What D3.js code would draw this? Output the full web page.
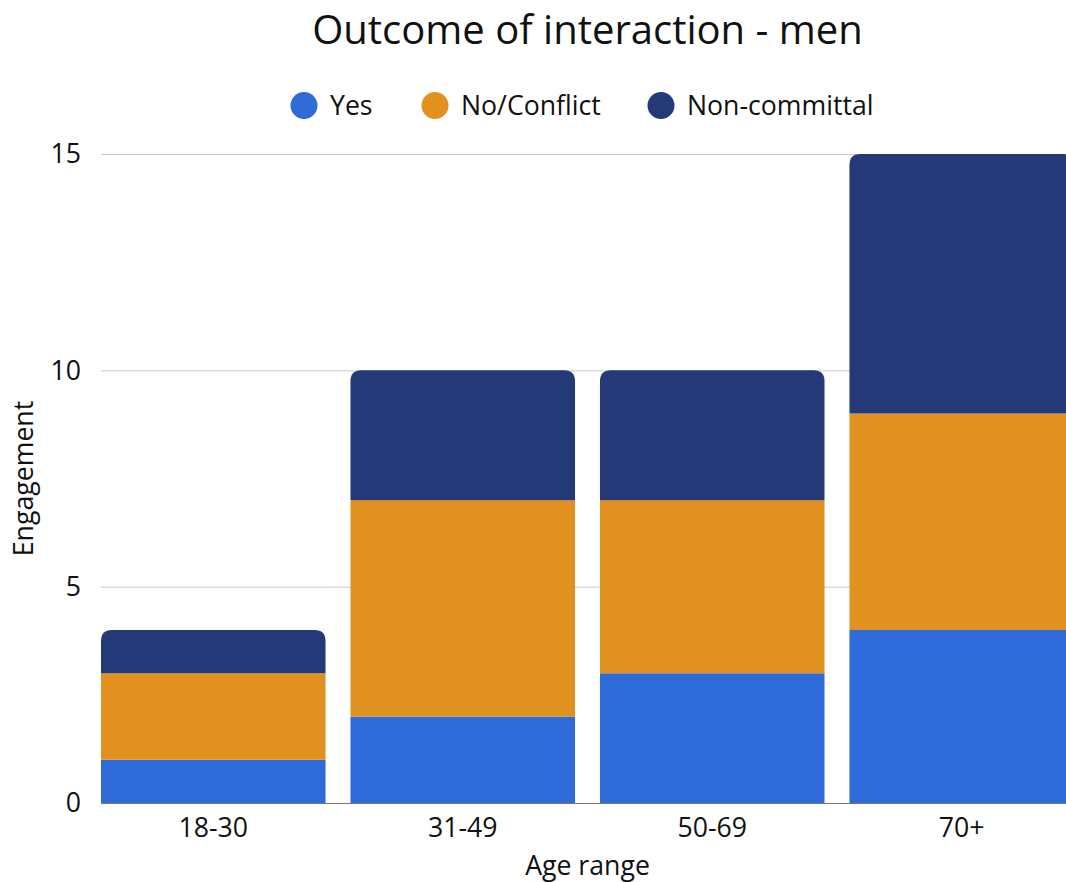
<!DOCTYPE html>
<html>
<head>
<meta charset="utf-8">
<script src="https://cdn.jsdelivr.net/npm/d3@7"></script>
<style>
  html, body { margin: 0; padding: 0; background: #fff; }
  svg { display: block; font-family: "Open Sans", "Noto Sans", sans-serif; }
</style>
</head>
<body>
<svg id="chart" width="1066" height="882"></svg>
<script>
// Engagement counts by age range, stacked by outcome
const categories = ["18-30", "31-49", "50-69", "70+"];
const seriesNames = ["Yes", "No/Conflict", "Non-committal"];
const yesValues = [1, 2, 3, 4];
const noConflictValues = [2, 5, 4, 5];
const nonCommittalValues = [1, 3, 3, 6];
const yTicks = [0, 5, 10, 15];
const colors = ["#2f6bd8", "#e1911f", "#243a78"];

(function draw() {
  const rows = categories.map((c, i) => ({
    cat: c,
    "Yes": yesValues[i],
    "No/Conflict": noConflictValues[i],
    "Non-committal": nonCommittalValues[i]
  }));

  const svg = d3.select("#chart");
  const plotLeft = 101, plotRight = 1074, plotTop = 154, plotBottom = 803;
  const fs = 26.67;

  const x = d3.scaleBand().domain(categories).range([plotLeft, plotRight])
    .paddingInner(0.1).paddingOuter(0);
  const y = d3.scaleLinear().domain([0, 15]).range([plotBottom, plotTop]);
  const color = d3.scaleOrdinal().domain(seriesNames).range(colors);

  // gridlines
  svg.append("g").selectAll("line").data(yTicks.filter(t => t > 0)).join("line")
    .attr("x1", plotLeft).attr("x2", 1066)
    .attr("y1", d => y(d) + 0.5).attr("y2", d => y(d) + 0.5)
    .attr("stroke", "#c8c8c8").attr("stroke-width", 1);

  // y tick labels
  svg.append("g").selectAll("text").data(yTicks).join("text")
    .attr("x", 81).attr("y", d => y(d)).attr("dy", "0.35em")
    .attr("text-anchor", "end").attr("font-size", fs).attr("fill", "#111")
    .text(d => d);

  const stack = d3.stack().keys(seriesNames)(rows);
  const r = 11;

  function segPath(x0, w, yTop, yBot, rounded) {
    if (!rounded) return `M${x0},${yBot}V${yTop}H${x0 + w}V${yBot}Z`;
    return `M${x0},${yBot}V${yTop + r}Q${x0},${yTop} ${x0 + r},${yTop}` +
           `H${x0 + w - r}Q${x0 + w},${yTop} ${x0 + w},${yTop + r}V${yBot}Z`;
  }

  const layers = svg.append("g").selectAll("g").data(stack).join("g")
    .attr("fill", d => color(d.key));
  layers.each(function(layer, li) {
    d3.select(this).selectAll("path").data(layer).join("path")
      .attr("d", d => segPath(x(d.data.cat), x.bandwidth(), y(d[1]), y(d[0]),
        li === stack.length - 1));
  });

  // baseline
  svg.append("line")
    .attr("x1", plotLeft).attr("x2", 1066).attr("y1", plotBottom + 0.5).attr("y2", plotBottom + 0.5)
    .attr("stroke", "#777").attr("stroke-width", 1);

  // x labels
  svg.append("g").selectAll("text").data(categories).join("text")
    .attr("x", d => x(d) + x.bandwidth() / 2).attr("y", 828).attr("dy", "0.35em")
    .attr("text-anchor", "middle").attr("font-size", fs).attr("fill", "#111")
    .text(d => d);

  // axis titles
  svg.append("text").attr("x", (plotLeft + plotRight) / 2).attr("y", 866).attr("dy", "0.35em")
    .attr("text-anchor", "middle").attr("font-size", fs).attr("fill", "#111")
    .text("Age range");
  svg.append("text")
    .attr("transform", `translate(33,${(plotTop + plotBottom) / 2}) rotate(-90)`)
    .attr("text-anchor", "middle")
    .attr("font-size", fs).attr("fill", "#111").text("Engagement");

  // title
  svg.append("text").attr("x", (plotLeft + plotRight) / 2).attr("y", 30).attr("dy", "0.35em")
    .attr("text-anchor", "middle").attr("font-size", 40).attr("fill", "#111")
    .text("Outcome of interaction - men");

  // legend
  const legendX = [304, 435, 661];
  const legend = svg.append("g").selectAll("g").data(seriesNames).join("g")
    .attr("transform", (d, i) => `translate(${legendX[i]},105.5)`);
  legend.append("circle").attr("r", 13.5).attr("fill", d => color(d));
  legend.append("text").attr("x", 26).attr("dy", "0.35em")
    .attr("font-size", fs).attr("fill", "#111").text(d => d);
})();
</script>
</body>
</html>
